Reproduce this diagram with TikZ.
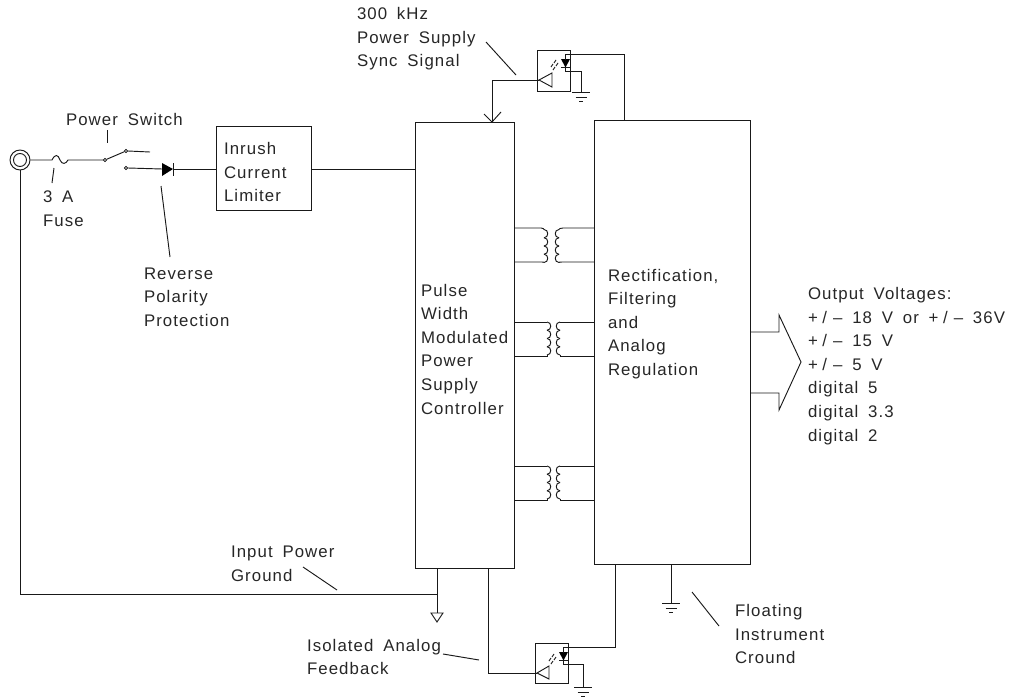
\documentclass[tikz,border=0pt]{standalone}
\usepackage{fontspec}
\setmainfont[LetterSpace=6.5,WordSpace=1.7]{Liberation Sans}
\newcommand{\plusminus}{+\kern3.5pt/\kern4.5pt--}
\newcommand{\coilR}[3]{% x, y top, bump depth (sign gives the side)
  \foreach \k in {0,1,2,3}{
    \draw[wire] (#1,{#2+8.25*\k}) .. controls ({#1+#3},{#2+8.25*\k}) and ({#1+#3},{#2+8.25*\k+8.25}) .. (#1,{#2+8.25*\k+8.25});
  }}
\begin{document}
\begin{tikzpicture}[x=0.75pt,y=-0.75pt,
  wire/.style={draw=black!90,line width=0.7pt},
  box/.style={draw=black!90,line width=0.7pt,inner sep=0,outer sep=0,rectangle,anchor=north west},
  lab/.style={anchor=west,inner sep=0,outer sep=0,align=left,font=\fontsize{12.6pt}{17.7pt}\selectfont,text=black!85}]
\useasboundingbox (0,0) rectangle (1020,696);
\tikzset{
  gndF/.pic={\draw[wire] (-9,0)--(9,0) (-5.5,5)--(5.5,5) (-2,9.5)--(2,9.5);}
}
% boxes
\node[box,minimum width=95*0.75pt,minimum height=84*0.75pt] (inrush) at (216,126) {};
\node[box,minimum width=99*0.75pt,minimum height=446*0.75pt] (pwm) at (415,122) {};
\node[box,minimum width=156*0.75pt,minimum height=444*0.75pt] (rect) at (594,120) {};
\node[box,minimum width=33*0.75pt,minimum height=41*0.75pt] (optoT) at (537,50) {};
\node[box,minimum width=33*0.75pt,minimum height=40*0.75pt] (optoB) at (535,643) {};
% jack
\node[circle,draw=black!90,line width=0.7pt,minimum size=20*0.75pt,inner sep=0] (jack) at (20,160) {};
\node[circle,draw=black!90,line width=0.7pt,minimum size=13*0.75pt,inner sep=0] (jackin) at (20,160) {};
% coordinates
\coordinate (fuseL) at (52,160); \coordinate (fuseR) at (68,160);
\node[circle,draw=black,line width=0.5pt,minimum size=2.5pt,inner sep=0] (cA) at (126,151) {};
\node[circle,draw=black,line width=0.5pt,minimum size=2.5pt,inner sep=0] (cB) at (126,168) {};
\node[circle,draw=black,line width=0.5pt,minimum size=2.5pt,inner sep=0] (cP) at (105,160) {};
\coordinate (cAe) at (150,152);
\coordinate (dioL) at (162,169); \coordinate (dioR) at (173,169);
% power path
\draw[wire] (jack.east) -- (fuseL) .. controls (55,154) and (58,154) .. (60,160) .. controls (62,165) and (66,164) .. (fuseR) -- (cP.west);
\draw[wire] (cP) -- (cA);
\draw[wire] (cA.east) -- (cAe);
\draw[wire] (cB.east) -- (dioL);
\fill[black] (162,163) -- (173,169) -- (162,176) -- cycle;
\draw[wire] (173,163) -- (173,176);
\draw[wire] (dioR) -- (inrush.west |- dioR);
\draw[wire] (inrush.east) ++(0,1) -- (415,169);
% return path
\coordinate (gT) at (437,613);
\draw[wire] (jack.south) |- (437,594);
\draw[wire] (437,568) -- (gT);
\draw[wire] (431,613) -- (443,613) -- (437,622) -- cycle;
% top opto
\coordinate (tA) at (539,80);
\draw[wire] (tA) -- (552,73) -- (552,87) -- cycle;
\draw[wire] (tA) -| (492,122);
\draw[wire] (484,114) -- (492,122) -- (501,112);
\fill[black] (561,59) -- (570,59) -- (565.5,67.5) -- cycle;
\draw[wire] (561,67.5) -- (570,67.5);
\draw[wire] (565,67) -- (565,71) -- (581,71) -- (581,92);
\draw[wire] (565,60) -- (565,54) -| (624,120);
\draw[wire] (553,70) -- (555,67) (556,66) -- (558,63) (551,67) -- (553,64) (554,63) -- (556,60);
\pic at (581,92) {gndF};
% bottom opto
\coordinate (bA) at (537,673);
\draw[wire] (bA) -- (549,666) -- (549,679) -- cycle;
\draw[wire] (bA) -| (488,568);
\fill[black] (559,652) -- (568,652) -- (563.5,660.5) -- cycle;
\draw[wire] (559,660.5) -- (568,660.5);
\draw[wire] (563,661) -- (563,664) -- (583,664) -- (583,687);
\draw[wire] (563,653) -- (563,647) -| (615,564);
\draw[wire] (551,664) -- (553,661) (554,660) -- (556,657) (549,661) -- (551,658) (552,657) -- (554,654);
\pic at (583,687) {gndF};
% floating ground
\draw[wire] (671,564) -- (671,603);
\pic at (671,603) {gndF};
% transformers
\draw[wire] (514,228) -- (541,228) .. controls (543,228) and (544,229) .. (544,229.5);
\coilR{544}{229.5}{5}
\draw[wire] (544,262.5) .. controls (544,262) and (543,262) .. (541,262) -- (514,262);
\draw[wire] (594,228) -- (563,228) .. controls (560,228) and (559,229) .. (559,229.5);
\coilR{559}{229.5}{-5}
\draw[wire] (559,262.5) .. controls (559,262) and (560,262) .. (563,262) -- (594,262);
\draw[wire] (514,322) -- (547,322);
\coilR{547}{322}{5}
\draw[wire] (547,355) -- (547,356) -- (514,356);
\draw[wire] (594,322) -- (560,322);
\coilR{560}{322}{-5}
\draw[wire] (560,355) -- (560,356) -- (594,356);
\draw[wire] (514,466) -- (547,466);
\coilR{547}{466}{5}
\draw[wire] (547,499) -- (547,500) -- (514,500);
\draw[wire] (594,466) -- (560,466);
\coilR{560}{466}{-5}
\draw[wire] (560,499) -- (560,500) -- (594,500);
% output arrow
\draw[wire] (750,332) -- (779,332) -- (779,315) -- (801,362) -- (779,410) -- (779,393) -- (750,393);
% ticks
\draw[wire] (107,130) -- (107,143);
\draw[wire] (54,168) -- (52,183);
\draw[wire] (161,186) -- (170,257);
\draw[wire] (486,42) -- (516,75);
\draw[wire] (443,654) -- (479,660);
\draw[wire] (303,567) -- (337,590);
\draw[wire] (692,592) -- (719,626);
% labels
\node[lab] (l1) at (66,119) {Power Switch};
\node[lab] (l2) at (43,209) {3 A\\Fuse};
\node[lab] (l3) at (224,172) {Inrush\\Current\\Limiter};
\node[lab] (l4) at (144,297) {Reverse\\Polarity\\Protection};
\node[lab] (l5) at (357,39) {300 kHz\\Power Supply\\Sync Signal};
\node[lab] (l6) at (421,349) {Pulse\\Width\\Modulated\\Power\\Supply\\Controller};
\node[lab] (l7) at (608,324) {Rectification,\\Filtering\\and\\Analog\\Regulation};
\node[lab] (l8) at (808,366) {Output Voltages:\\\plusminus{} 18 V or \plusminus{} 36V\\\plusminus{} 15 V\\\plusminus{} 5 V\\digital 5\\digital 3.3\\digital 2};
\node[lab] (l9) at (231,564) {Input Power\\Ground};
\node[lab] (l10) at (307,657) {Isolated Analog\\Feedback};
\node[lab] (l11) at (735,634) {Floating\\Instrument\\Cround};
\end{tikzpicture}
\end{document}
